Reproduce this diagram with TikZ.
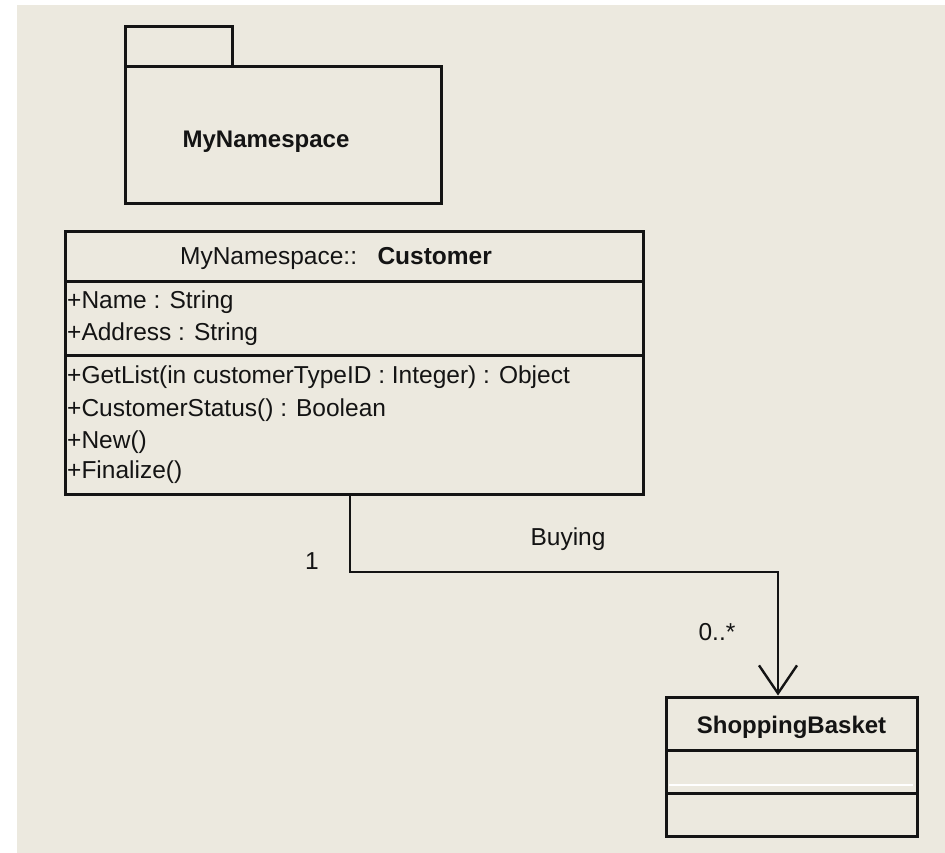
\documentclass[tikz,border=0pt]{standalone}
\usepackage{fontspec}
\setmainfont{Liberation Sans}
\usetikzlibrary{arrows.meta}
\definecolor{paper}{RGB}{236,233,223}
\definecolor{ink}{RGB}{20,20,20}
\tikzset{
  box/.style={draw=ink, line width=3pt, fill=paper, inner sep=0pt, minimum width=#1},
  umltext/.style={font=\fontsize{24.5}{28}\selectfont, text=ink, inner sep=0pt, anchor=base west},
  ctext/.style={font=\fontsize{24.5}{28}\selectfont, text=ink, inner sep=0pt, anchor=base},
  assoc/.style={draw=ink, line width=2.2pt},
}
\begin{document}
\begin{tikzpicture}[x=1pt, y=-1pt]
  % page and paper
  \fill[white] (0,0) rectangle (945,853);
  \fill[paper] (17,5) rectangle (945,853);
  \useasboundingbox (0,0) rectangle (945,853);

  % package
  \node[box=107pt, minimum height=40pt] (tab) at (178.5,47) {};
  \node[box=316pt, minimum height=137pt] (pkg) at (283,135.5) {};
  \node[ctext, font=\fontsize{24}{28}\selectfont\bfseries] (pkgname) at (266,148) {MyNamespace};

  % class Customer
  \node[box=578pt, minimum height=49pt] (chead) at (354,256.5) {};
  \node[box=578pt, minimum height=74pt] (cattr) at (354,318) {};
  \node[box=578pt, minimum height=139pt] (cops) at (354,424.5) {};
  \node[ctext] (ctitle) at (336,264) {MyNamespace::\ \ \ \textbf{Customer}};
  \node[umltext] (a1) at (67,308) {+Name : String};
  \node[umltext] (a2) at (67,340) {+Address : String};
  \node[umltext] (o1) at (67,383) {+GetList(in customerTypeID : Integer) : Object};
  \node[umltext] (o2) at (67,416) {+CustomerStatus() : Boolean};
  \node[umltext] (o3) at (67,448) {+New()};
  \node[umltext] (o4) at (67,478) {+Finalize()};

  % class ShoppingBasket
  \node[box=251pt, minimum height=53pt] (bhead) at (791.5,723.5) {};
  \node[box=251pt, minimum height=43pt] (battr) at (791.5,771.5) {};
  \node[box=251pt, minimum height=43pt] (bops) at (791.5,814.5) {};
  \node[ctext, font=\fontsize{24}{28}\selectfont\bfseries] (btitle) at (791.5,733) {ShoppingBasket};
  \draw[white, line width=2pt] ([xshift=4pt,yshift=-13pt]battr.west) -- ([xshift=-6pt,yshift=-13pt]battr.east);

  % association Buying
  \coordinate (k1) at (350,572);
  \coordinate (k2) at (778,572);
  \draw[assoc, -{Straight Barb[length=28pt,width=38pt,line width=2.4pt]}]
    (cops.south -| k1) -- (k1) -- (k2) -- (bhead.north -| k2);
  \node[ctext] (m1) at (312,569) {1};
  \node[ctext] (rname) at (568,545) {Buying};
  \node[ctext] (m2) at (717,640) {0..*};
\end{tikzpicture}
\end{document}
